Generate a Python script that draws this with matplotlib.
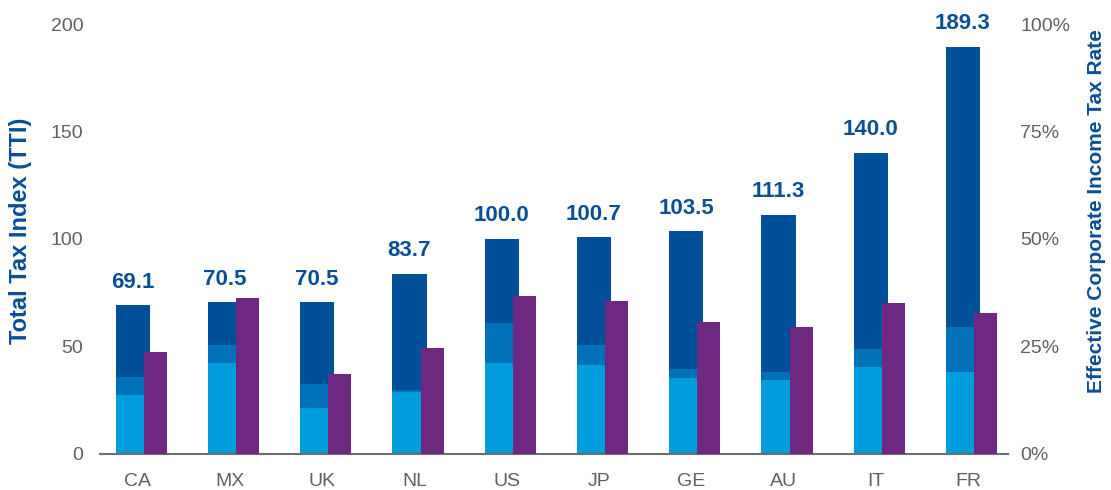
import numpy as np
import matplotlib
matplotlib.use('Agg')
import matplotlib.pyplot as plt
from matplotlib.ticker import PercentFormatter

plt.rcParams['font.family'] = ['Liberation Sans', 'DejaVu Sans']

countries = ['CA', 'MX', 'UK', 'NL', 'US', 'JP', 'GE', 'AU', 'IT', 'FR']
tti_total = [69.1, 70.5, 70.5, 83.7, 100.0, 100.7, 103.5, 111.3, 140.0, 189.3]
tti_light = [27.4, 42.3, 21.4, 28.8, 42.3, 41.4, 35.3, 34.4, 40.5, 38.1]   # bottom segment
tti_mid = [35.8, 50.7, 32.6, 29.8, 60.9, 50.7, 39.5, 38.1, 48.8, 59.1]     # top of middle segment
cit_rate = [23.7, 36.3, 18.6, 24.7, 36.7, 35.6, 30.7, 29.5, 35.1, 32.8]    # effective CIT rate, %

c_light = '#009ddc'
c_mid = '#0070b8'
c_dark = '#004f99'
c_purple = '#6f2881'
c_text = '#0a4f96'
c_tick = '#606060'

x = np.arange(len(countries))
light = np.array(tti_light)
mid = np.array(tti_mid) - light
dark = np.array(tti_total) - np.array(tti_mid)

fig = plt.figure(figsize=(11.11, 4.9), dpi=100)
ax1 = fig.add_axes([0.09, 0.0735, 0.817, 0.8775])
ax2 = ax1.twinx()

w1, w2 = 0.37, 0.25
x1 = x - 0.055
x2 = x + 0.19
ax1.bar(x1, light, w1, color=c_light, zorder=2)
ax1.bar(x1, mid, w1, bottom=light, color=c_mid, zorder=2)
ax1.bar(x1, dark, w1, bottom=light + mid, color=c_dark, zorder=2)
for xi, t in zip(x1, tti_total):
    ax1.text(xi, t + 6, '%.1f' % t, ha='center', va='bottom', fontsize=16,
             fontweight='bold', color=c_text)

ax2.bar(x2, cit_rate, w2, color=c_purple, zorder=3)

ax1.set_ylim(0, 200)
ax2.set_ylim(0, 100)
ax1.set_xlim(-0.41, 9.43)
ax1.set_yticks([0, 50, 100, 150, 200])
ax2.set_yticks([0, 25, 50, 75, 100])
ax2.yaxis.set_major_formatter(PercentFormatter(decimals=0))
ax1.set_xticks(x)
ax1.set_xticklabels(countries)

for ax in (ax1, ax2):
    for s in ['top', 'right', 'left']:
        ax.spines[s].set_visible(False)
    ax.spines['bottom'].set_color('#6e6e6e')
    ax.spines['bottom'].set_linewidth(1.5)
ax2.spines['bottom'].set_visible(False)

ax1.tick_params(axis='y', length=0, pad=12, labelsize=14, labelcolor=c_tick)
ax1.tick_params(axis='x', length=0, pad=14, labelsize=14, labelcolor=c_tick)
ax2.tick_params(axis='y', length=0, pad=9, labelsize=14, labelcolor=c_tick)

ax1.set_ylabel('Total Tax Index (TTI)', fontsize=17, fontweight='bold', color=c_text)
ax1.yaxis.set_label_coords(-0.075, 0.52)
ax2.set_ylabel('Effective Corporate Income Tax Rate', fontsize=15, fontweight='bold',
               color=c_text)
ax2.yaxis.set_label_coords(1.087, 0.565)

fig.savefig('out.png', dpi=100)
